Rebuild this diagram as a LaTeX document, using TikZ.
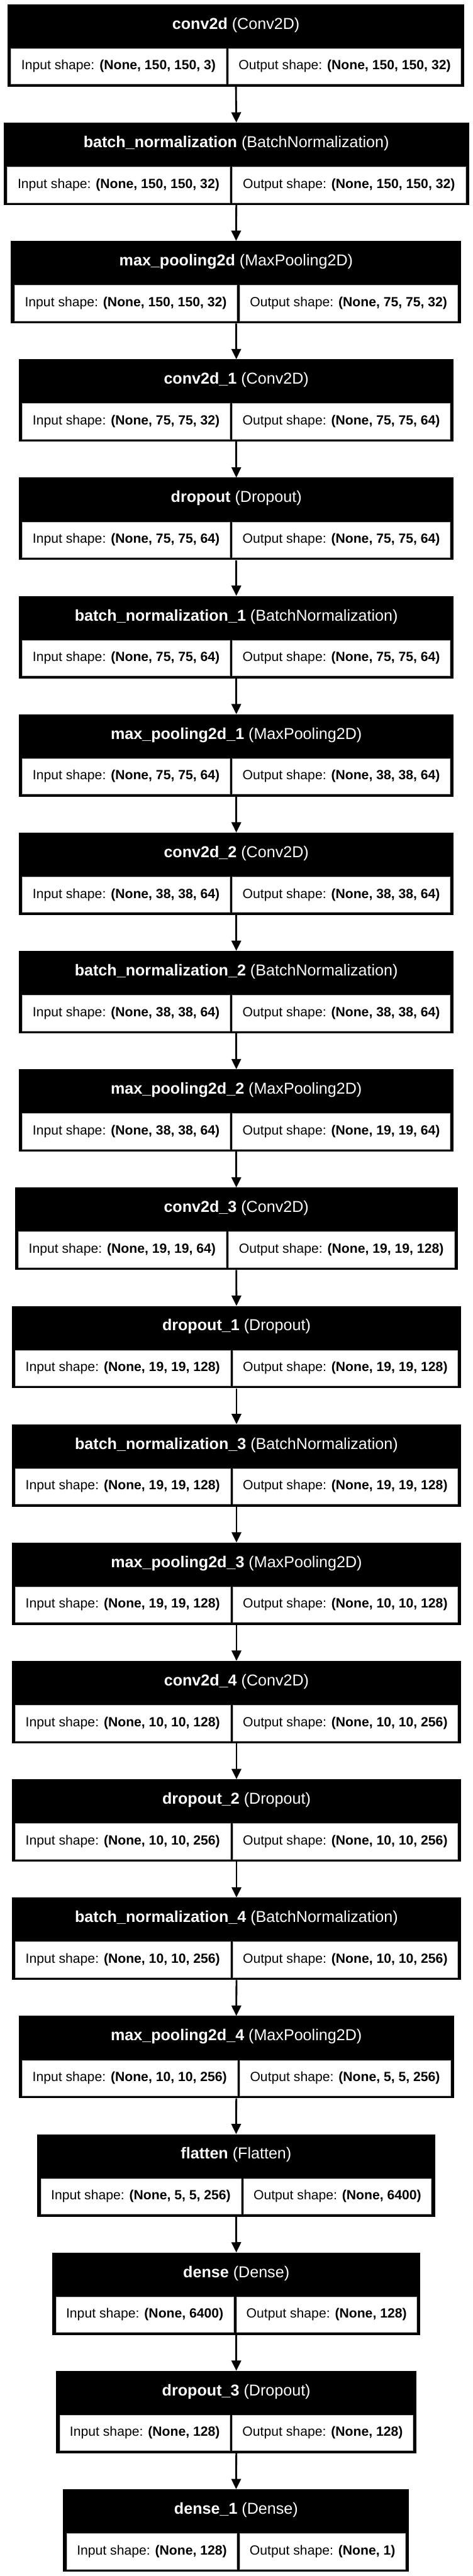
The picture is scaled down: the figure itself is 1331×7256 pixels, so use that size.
\documentclass[tikz,border=0pt]{standalone}
\usepackage{fontspec}
\setmainfont{Liberation Sans}
\usetikzlibrary{arrows.meta}

\begin{document}
\begin{tikzpicture}[x=1pt,y=1pt,
		layerbox/.style={fill=black,inner sep=0pt,minimum height=232pt,anchor=north},
		headtext/.style={text=white,inner sep=0pt,font=\fontsize{44.5}{53}\selectfont},
		shapecell/.style={fill=white,draw=gray!50,line width=1pt,inner sep=0pt,minimum height=100pt,font=\fontsize{37.5}{45}\selectfont},
		flowarrow/.style={-{Triangle[length=29pt,width=27pt]},line width=5pt}]
	\useasboundingbox (0,0) rectangle (1331,-7256);
	
	% conv2d
	\node[layerbox,minimum width=1287pt] (conv2d) at (664.5,-12) {};
	\node[headtext] (conv2d-t) at ([yshift=-58.5pt]conv2d.north) {\textbf{conv2d} (Conv2D)};
	\node[shapecell,minimum width=605pt,anchor=south west] (conv2d-in) at ([shift={(10,7)}]conv2d.south west) {Input shape: \textbf{(None, 150, 150, 3)}};
	\node[shapecell,minimum width=654pt,anchor=south east] (conv2d-out) at ([shift={(-10,7)}]conv2d.south east) {Output shape: \textbf{(None, 150, 150, 32)}};
	
	% batch_normalization
	\node[layerbox,minimum width=1311pt] (bnorm) at (665.5,-345.3) {};
	\node[headtext] (bnorm-t) at ([yshift=-58.5pt]bnorm.north) {\textbf{batch\_normalization} (BatchNormalization)};
	\node[shapecell,minimum width=627pt,anchor=south west] (bnorm-in) at ([shift={(10,7)}]bnorm.south west) {Input shape: \textbf{(None, 150, 150, 32)}};
	\node[shapecell,minimum width=656pt,anchor=south east] (bnorm-out) at ([shift={(-10,7)}]bnorm.south east) {Output shape: \textbf{(None, 150, 150, 32)}};
	
	% max_pooling2d
	\node[layerbox,minimum width=1268pt] (pool) at (665,-678.6) {};
	\node[headtext] (pool-t) at ([yshift=-58.5pt]pool.north) {\textbf{max\_pooling2d} (MaxPooling2D)};
	\node[shapecell,minimum width=626pt,anchor=south west] (pool-in) at ([shift={(10,7)}]pool.south west) {Input shape: \textbf{(None, 150, 150, 32)}};
	\node[shapecell,minimum width=614pt,anchor=south east] (pool-out) at ([shift={(-10,7)}]pool.south east) {Output shape: \textbf{(None, 75, 75, 32)}};
	
	% conv2d_1
	\node[layerbox,minimum width=1225pt] (conv2d1) at (665.5,-1011.9) {};
	\node[headtext] (conv2d1-t) at ([yshift=-58.5pt]conv2d1.north) {\textbf{conv2d\_1} (Conv2D)};
	\node[shapecell,minimum width=584pt,anchor=south west] (conv2d1-in) at ([shift={(10,7)}]conv2d1.south west) {Input shape: \textbf{(None, 75, 75, 32)}};
	\node[shapecell,minimum width=613pt,anchor=south east] (conv2d1-out) at ([shift={(-10,7)}]conv2d1.south east) {Output shape: \textbf{(None, 75, 75, 64)}};
	
	% dropout
	\node[layerbox,minimum width=1225pt] (drop) at (665.5,-1345.2) {};
	\node[headtext] (drop-t) at ([yshift=-58.5pt]drop.north) {\textbf{dropout} (Dropout)};
	\node[shapecell,minimum width=584pt,anchor=south west] (drop-in) at ([shift={(10,7)}]drop.south west) {Input shape: \textbf{(None, 75, 75, 64)}};
	\node[shapecell,minimum width=613pt,anchor=south east] (drop-out) at ([shift={(-10,7)}]drop.south east) {Output shape: \textbf{(None, 75, 75, 64)}};
	
	% batch_normalization_1
	\node[layerbox,minimum width=1225pt] (bnorm1) at (665.5,-1678.5) {};
	\node[headtext] (bnorm1-t) at ([yshift=-58.5pt]bnorm1.north) {\textbf{batch\_normalization\_1} (BatchNormalization)};
	\node[shapecell,minimum width=584pt,anchor=south west] (bnorm1-in) at ([shift={(10,7)}]bnorm1.south west) {Input shape: \textbf{(None, 75, 75, 64)}};
	\node[shapecell,minimum width=613pt,anchor=south east] (bnorm1-out) at ([shift={(-10,7)}]bnorm1.south east) {Output shape: \textbf{(None, 75, 75, 64)}};
	
	% max_pooling2d_1
	\node[layerbox,minimum width=1225pt] (pool1) at (665.5,-2011.8) {};
	\node[headtext] (pool1-t) at ([yshift=-58.5pt]pool1.north) {\textbf{max\_pooling2d\_1} (MaxPooling2D)};
	\node[shapecell,minimum width=584pt,anchor=south west] (pool1-in) at ([shift={(10,7)}]pool1.south west) {Input shape: \textbf{(None, 75, 75, 64)}};
	\node[shapecell,minimum width=613pt,anchor=south east] (pool1-out) at ([shift={(-10,7)}]pool1.south east) {Output shape: \textbf{(None, 38, 38, 64)}};
	
	% conv2d_2
	\node[layerbox,minimum width=1225pt] (conv2d2) at (665.5,-2345.1) {};
	\node[headtext] (conv2d2-t) at ([yshift=-58.5pt]conv2d2.north) {\textbf{conv2d\_2} (Conv2D)};
	\node[shapecell,minimum width=584pt,anchor=south west] (conv2d2-in) at ([shift={(10,7)}]conv2d2.south west) {Input shape: \textbf{(None, 38, 38, 64)}};
	\node[shapecell,minimum width=613pt,anchor=south east] (conv2d2-out) at ([shift={(-10,7)}]conv2d2.south east) {Output shape: \textbf{(None, 38, 38, 64)}};
	
	% batch_normalization_2
	\node[layerbox,minimum width=1225pt] (bnorm2) at (665.5,-2678.4) {};
	\node[headtext] (bnorm2-t) at ([yshift=-58.5pt]bnorm2.north) {\textbf{batch\_normalization\_2} (BatchNormalization)};
	\node[shapecell,minimum width=584pt,anchor=south west] (bnorm2-in) at ([shift={(10,7)}]bnorm2.south west) {Input shape: \textbf{(None, 38, 38, 64)}};
	\node[shapecell,minimum width=613pt,anchor=south east] (bnorm2-out) at ([shift={(-10,7)}]bnorm2.south east) {Output shape: \textbf{(None, 38, 38, 64)}};
	
	% max_pooling2d_2
	\node[layerbox,minimum width=1225pt] (pool2) at (665.5,-3011.7) {};
	\node[headtext] (pool2-t) at ([yshift=-58.5pt]pool2.north) {\textbf{max\_pooling2d\_2} (MaxPooling2D)};
	\node[shapecell,minimum width=584pt,anchor=south west] (pool2-in) at ([shift={(10,7)}]pool2.south west) {Input shape: \textbf{(None, 38, 38, 64)}};
	\node[shapecell,minimum width=613pt,anchor=south east] (pool2-out) at ([shift={(-10,7)}]pool2.south east) {Output shape: \textbf{(None, 19, 19, 64)}};
	
	% conv2d_3
	\node[layerbox,minimum width=1247pt] (conv2d3) at (665.5,-3345) {};
	\node[headtext] (conv2d3-t) at ([yshift=-58.5pt]conv2d3.north) {\textbf{conv2d\_3} (Conv2D)};
	\node[shapecell,minimum width=584pt,anchor=south west] (conv2d3-in) at ([shift={(10,7)}]conv2d3.south west) {Input shape: \textbf{(None, 19, 19, 64)}};
	\node[shapecell,minimum width=635pt,anchor=south east] (conv2d3-out) at ([shift={(-10,7)}]conv2d3.south east) {Output shape: \textbf{(None, 19, 19, 128)}};
	
	% dropout_1
	\node[layerbox,minimum width=1266pt] (drop1) at (666,-3678.3) {};
	\node[headtext] (drop1-t) at ([yshift=-58.5pt]drop1.north) {\textbf{dropout\_1} (Dropout)};
	\node[shapecell,minimum width=605pt,anchor=south west] (drop1-in) at ([shift={(10,7)}]drop1.south west) {Input shape: \textbf{(None, 19, 19, 128)}};
	\node[shapecell,minimum width=633pt,anchor=south east] (drop1-out) at ([shift={(-10,7)}]drop1.south east) {Output shape: \textbf{(None, 19, 19, 128)}};
	
	% batch_normalization_3
	\node[layerbox,minimum width=1266pt] (bnorm3) at (666,-4011.6) {};
	\node[headtext] (bnorm3-t) at ([yshift=-58.5pt]bnorm3.north) {\textbf{batch\_normalization\_3} (BatchNormalization)};
	\node[shapecell,minimum width=605pt,anchor=south west] (bnorm3-in) at ([shift={(10,7)}]bnorm3.south west) {Input shape: \textbf{(None, 19, 19, 128)}};
	\node[shapecell,minimum width=633pt,anchor=south east] (bnorm3-out) at ([shift={(-10,7)}]bnorm3.south east) {Output shape: \textbf{(None, 19, 19, 128)}};
	
	% max_pooling2d_3
	\node[layerbox,minimum width=1266pt] (pool3) at (666,-4344.9) {};
	\node[headtext] (pool3-t) at ([yshift=-58.5pt]pool3.north) {\textbf{max\_pooling2d\_3} (MaxPooling2D)};
	\node[shapecell,minimum width=605pt,anchor=south west] (pool3-in) at ([shift={(10,7)}]pool3.south west) {Input shape: \textbf{(None, 19, 19, 128)}};
	\node[shapecell,minimum width=633pt,anchor=south east] (pool3-out) at ([shift={(-10,7)}]pool3.south east) {Output shape: \textbf{(None, 10, 10, 128)}};
	
	% conv2d_4
	\node[layerbox,minimum width=1266pt] (conv2d4) at (666,-4678.2) {};
	\node[headtext] (conv2d4-t) at ([yshift=-58.5pt]conv2d4.north) {\textbf{conv2d\_4} (Conv2D)};
	\node[shapecell,minimum width=605pt,anchor=south west] (conv2d4-in) at ([shift={(10,7)}]conv2d4.south west) {Input shape: \textbf{(None, 10, 10, 128)}};
	\node[shapecell,minimum width=633pt,anchor=south east] (conv2d4-out) at ([shift={(-10,7)}]conv2d4.south east) {Output shape: \textbf{(None, 10, 10, 256)}};
	
	% dropout_2
	\node[layerbox,minimum width=1266pt] (drop2) at (666,-5011.5) {};
	\node[headtext] (drop2-t) at ([yshift=-58.5pt]drop2.north) {\textbf{dropout\_2} (Dropout)};
	\node[shapecell,minimum width=605pt,anchor=south west] (drop2-in) at ([shift={(10,7)}]drop2.south west) {Input shape: \textbf{(None, 10, 10, 256)}};
	\node[shapecell,minimum width=633pt,anchor=south east] (drop2-out) at ([shift={(-10,7)}]drop2.south east) {Output shape: \textbf{(None, 10, 10, 256)}};
	
	% batch_normalization_4
	\node[layerbox,minimum width=1266pt] (bnorm4) at (666,-5344.8) {};
	\node[headtext] (bnorm4-t) at ([yshift=-58.5pt]bnorm4.north) {\textbf{batch\_normalization\_4} (BatchNormalization)};
	\node[shapecell,minimum width=605pt,anchor=south west] (bnorm4-in) at ([shift={(10,7)}]bnorm4.south west) {Input shape: \textbf{(None, 10, 10, 256)}};
	\node[shapecell,minimum width=633pt,anchor=south east] (bnorm4-out) at ([shift={(-10,7)}]bnorm4.south east) {Output shape: \textbf{(None, 10, 10, 256)}};
	
	% max_pooling2d_4
	\node[layerbox,minimum width=1226pt] (pool4) at (665.5,-5678.1) {};
	\node[headtext] (pool4-t) at ([yshift=-58.5pt]pool4.north) {\textbf{max\_pooling2d\_4} (MaxPooling2D)};
	\node[shapecell,minimum width=605pt,anchor=south west] (pool4-in) at ([shift={(10,7)}]pool4.south west) {Input shape: \textbf{(None, 10, 10, 256)}};
	\node[shapecell,minimum width=593pt,anchor=south east] (pool4-out) at ([shift={(-10,7)}]pool4.south east) {Output shape: \textbf{(None, 5, 5, 256)}};
	
	% flatten
	\node[layerbox,minimum width=1120pt] (flat) at (665,-6011.4) {};
	\node[headtext] (flat-t) at ([yshift=-58.5pt]flat.north) {\textbf{flatten} (Flatten)};
	\node[shapecell,minimum width=563pt,anchor=south west] (flat-in) at ([shift={(10,7)}]flat.south west) {Input shape: \textbf{(None, 5, 5, 256)}};
	\node[shapecell,minimum width=529pt,anchor=south east] (flat-out) at ([shift={(-10,7)}]flat.south east) {Output shape: \textbf{(None, 6400)}};
	
	% dense
	\node[layerbox,minimum width=1037pt] (dense) at (665.5,-6344.7) {};
	\node[headtext] (dense-t) at ([yshift=-58.5pt]dense.north) {\textbf{dense} (Dense)};
	\node[shapecell,minimum width=501pt,anchor=south west] (dense-in) at ([shift={(10,7)}]dense.south west) {Input shape: \textbf{(None, 6400)}};
	\node[shapecell,minimum width=508pt,anchor=south east] (dense-out) at ([shift={(-10,7)}]dense.south east) {Output shape: \textbf{(None, 128)}};
	
	% dropout_3
	\node[layerbox,minimum width=1015pt] (drop3) at (665.5,-6678) {};
	\node[headtext] (drop3-t) at ([yshift=-58.5pt]drop3.north) {\textbf{dropout\_3} (Dropout)};
	\node[shapecell,minimum width=479pt,anchor=south west] (drop3-in) at ([shift={(10,7)}]drop3.south west) {Input shape: \textbf{(None, 128)}};
	\node[shapecell,minimum width=508pt,anchor=south east] (drop3-out) at ([shift={(-10,7)}]drop3.south east) {Output shape: \textbf{(None, 128)}};
	
	% dense_1
	\node[layerbox,minimum width=974pt] (dense1) at (665,-7011.3) {};
	\node[headtext] (dense1-t) at ([yshift=-58.5pt]dense1.north) {\textbf{dense\_1} (Dense)};
	\node[shapecell,minimum width=479pt,anchor=south west] (dense1-in) at ([shift={(10,7)}]dense1.south west) {Input shape: \textbf{(None, 128)}};
	\node[shapecell,minimum width=467pt,anchor=south east] (dense1-out) at ([shift={(-10,7)}]dense1.south east) {Output shape: \textbf{(None, 1)}};
	
	% Arrows between layers
	\draw[flowarrow] (conv2d.south) -- (bnorm.north);
	\draw[flowarrow] (bnorm.south) -- (pool.north);
	\draw[flowarrow] (pool.south) -- (conv2d1.north);
	\draw[flowarrow] (conv2d1.south) -- (drop.north);
	\draw[flowarrow] (drop.south) -- (bnorm1.north);
	\draw[flowarrow] (bnorm1.south) -- (pool1.north);
	\draw[flowarrow] (pool1.south) -- (conv2d2.north);
	\draw[flowarrow] (conv2d2.south) -- (bnorm2.north);
	\draw[flowarrow] (bnorm2.south) -- (pool2.north);
	\draw[flowarrow] (pool2.south) -- (conv2d3.north);
	\draw[flowarrow] (conv2d3.south) -- (drop1.north);
	\draw[flowarrow] (drop1.south) -- (bnorm3.north);
	\draw[flowarrow] (bnorm3.south) -- (pool3.north);
	\draw[flowarrow] (pool3.south) -- (conv2d4.north);
	\draw[flowarrow] (conv2d4.south) -- (drop2.north);
	\draw[flowarrow] (drop2.south) -- (bnorm4.north);
	\draw[flowarrow] (bnorm4.south) -- (pool4.north);
	\draw[flowarrow] (pool4.south) -- (flat.north);
	\draw[flowarrow] (flat.south) -- (dense.north);
	\draw[flowarrow] (dense.south) -- (drop3.north);
	\draw[flowarrow] (drop3.south) -- (dense1.north);
\end{tikzpicture}
\end{document}
